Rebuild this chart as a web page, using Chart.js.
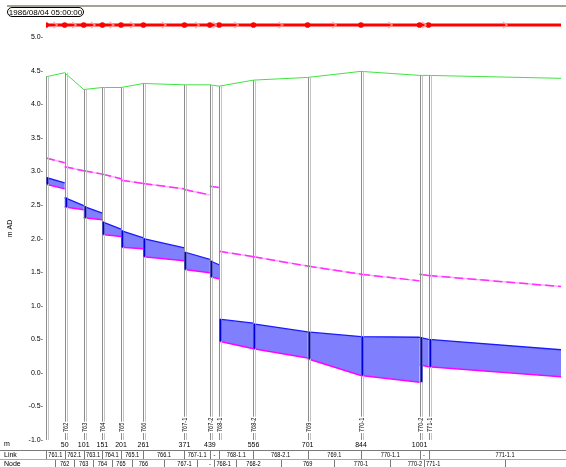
<!DOCTYPE html>
<html>
<head>
<meta charset="utf-8">
<title>Longitudinal profile</title>
<script src="https://cdn.jsdelivr.net/npm/chart.js@4.4.1/dist/chart.umd.min.js"></script>
<style>
  html, body { margin: 0; padding: 0; background: #fff; }
  #wrap { width: 566px; height: 467px; }
</style>
</head>
<body>
<div id="wrap"><canvas id="profile" width="566" height="467"></canvas></div>
<script>
// Perfil longitudinal del colector, instante 1986/08/04 05:00
const timeStamp = '1986/08/04 05:00:00';

// Nodos (pozos): nombre, distancia acumulada (m) y cota de terreno (m AD)
const nodeNames = ['761', '762', '763', '764', '765', '766', '767-1', '767-2', '768-1', '768-2', '769', '770-1', '770-2', '771-1', ''];
const nodeDist = [0, 50, 101, 151, 201, 261, 371, 439, 464, 556, 701, 844, 1001, 1025, 1435];
const distLabels = ['', '50', '101', '151', '201', '261', '371', '439', '', '556', '701', '844', '1001', '', ''];
const groundLevel = [4.41, 4.47, 4.22, 4.25, 4.25, 4.31, 4.29, 4.29, 4.27, 4.36, 4.40, 4.49, 4.43, 4.43, 4.38];

// Tramos (links) entre nodo i y nodo i+1
const linkNames = ['761.1', '762.1', '763.1', '764.1', '765.1', '766.1', '767-1.1', '767-2.1', '768-1.1', '768-2.1', '769.1', '770-1.1', '770-2.1', '771-1.1'];
const invertUp = [2.81, 2.47, 2.31, 2.06, 1.87, 1.73, 1.54, 1.43, 0.47, 0.36, 0.21, -0.04, 0.12, 0.09];
const invertDn = [2.74, 2.43, 2.28, 2.03, 1.85, 1.67, 1.49, 1.40, 0.36, 0.22, -0.04, -0.14, 0.09, -0.08];
const crownUp = [3.20, 3.07, 3.01, 2.96, 2.87, 2.82, 2.73, 2.78, 1.81, 1.73, 1.59, 1.47, 1.47, 1.45];
const crownDn = [3.13, 3.01, 2.96, 2.89, 2.82, 2.74, 2.65, 2.76, 1.73, 1.59, 1.47, 1.37, 1.45, 1.26];
const waterUp = [2.91, 2.61, 2.48, 2.25, 2.12, 2.00, 1.80, 1.67, 0.80, 0.73, 0.61, 0.54, 0.53, 0.50];
const waterDn = [2.83, 2.49, 2.38, 2.14, 2.01, 1.86, 1.69, 1.61, 0.74, 0.61, 0.54, 0.53, 0.50, 0.32];

// Marcas del eje vertical
const yTicks = [-1.0, -0.5, 0.0, 0.5, 1.0, 1.5, 2.0, 2.5, 3.0, 3.5, 4.0, 4.5, 5.0];

const X_MAX = 1380;
const BAND_LEVEL = 5.18;   // fila roja de la red, encima del perfil
const FONT = '"Liberation Sans", Arial, sans-serif';
const NARROW = 0.8;        // la fuente original es más estrecha

Chart.defaults.font.family = FONT;
Chart.defaults.font.size = 7;
Chart.defaults.color = '#000';

// serie por tramos con huecos entre tramos
function linkSeries(up, dn) {
    const pts = [];
    for (let i = 0; i < linkNames.length; i++) {
        pts.push({ x: nodeDist[i], y: up[i] });
        pts.push({ x: nodeDist[i + 1], y: dn[i] });
        pts.push({ x: nodeDist[i + 1], y: null });
    }
    return pts;
}

// flecha ">" para el sentido del flujo
function arrowGlyph() {
    const c = document.createElement('canvas');
    c.width = 6; c.height = 8;
    const g = c.getContext('2d');
    g.strokeStyle = '#ffa0a0';
    g.lineWidth = 1.2;
    g.beginPath();
    g.moveTo(1, 1); g.lineTo(5, 4); g.lineTo(1, 7);
    g.stroke();
    return c;
}

// texto comprimido en horizontal
function narrowText(ctx, text, x, y) {
    ctx.save();
    ctx.translate(x, y);
    ctx.scale(NARROW, 1);
    ctx.fillText(text, 0, 0);
    ctx.restore();
}

const waterShapes = linkNames.map((name, i) => ({
    label: name,
    data: [
        { x: nodeDist[i], y: waterUp[i] },
        { x: nodeDist[i + 1], y: waterDn[i] },
        { x: nodeDist[i + 1], y: invertDn[i] },
        { x: nodeDist[i], y: invertUp[i] }
    ],
    fill: 'shape',
    backgroundColor: '#8080ff',
    borderWidth: 0,
    pointRadius: 0,
    order: 6
}));

const datasets = [
    {
        label: 'red',
        data: nodeDist.map(d => ({ x: d, y: BAND_LEVEL })),
        borderColor: '#ff0000',
        backgroundColor: '#ff0000',
        borderWidth: 3,
        pointRadius: 2.8,
        pointBorderWidth: 0,
        order: 0
    },
    {
        label: 'flow',
        data: linkNames.map((n, i) => ({ x: (nodeDist[i] + nodeDist[i + 1]) / 2, y: BAND_LEVEL })),
        showLine: false,
        pointStyle: arrowGlyph(),
        order: -1
    },
    {
        label: 'Ground',
        data: nodeDist.map((d, i) => ({ x: d, y: groundLevel[i] })),
        borderColor: '#3fe43f',
        borderWidth: 1,
        pointRadius: 0,
        order: 1
    },
    {
        label: 'Invert',
        data: linkSeries(invertUp, invertDn),
        borderColor: '#ff00ff',
        borderWidth: 1.5,
        pointRadius: 0,
        order: 2
    },
    {
        label: 'Crown',
        data: linkSeries(crownUp, crownDn),
        borderColor: '#ff30ff',
        borderWidth: 1.5,
        borderDash: [9, 4],
        pointRadius: 0,
        order: 3
    },
    {
        label: 'Crown2',
        data: linkSeries(crownUp, crownDn),
        borderColor: '#ffb0ff',
        borderWidth: 1.5,
        pointRadius: 0,
        order: 4
    },
    {
        label: 'Water',
        data: linkSeries(waterUp, waterDn),
        borderColor: '#1a1aff',
        borderWidth: 1.3,
        pointRadius: 0,
        order: 5
    }
].concat(waterShapes);

// pozos, textos y tabla inferior
const profileDecor = {
    id: 'profileDecor',
    afterDatasetsDraw(chart) {
        const { ctx, chartArea } = chart;
        const xs = chart.scales.x, ys = chart.scales.y;
        ctx.save();
        ctx.beginPath();
        ctx.rect(chartArea.left - 2, 0, chartArea.right - chartArea.left + 4, chartArea.bottom + 1);
        ctx.clip();
        // paredes de pozo
        nodeDist.forEach((d, i) => {
            const x = Math.round(xs.getPixelForValue(d));
            const top = ys.getPixelForValue(groundLevel[i]);
            ctx.lineWidth = 1;
            ctx.strokeStyle = '#8c8c8c';
            ctx.beginPath(); ctx.moveTo(x + 0.5, top); ctx.lineTo(x + 0.5, chartArea.bottom); ctx.stroke();
            ctx.strokeStyle = '#c4c4c4';
            ctx.beginPath(); ctx.moveTo(x + 2.5, top); ctx.lineTo(x + 2.5, chartArea.bottom); ctx.stroke();
        });
        // agua en el pozo
        ctx.strokeStyle = '#0000d8';
        ctx.lineWidth = 2;
        for (let i = 0; i < linkNames.length; i++) {
            const x = Math.round(xs.getPixelForValue(nodeDist[i])) + 1.5;
            const bottom = i > 0 ? Math.min(invertDn[i - 1], invertUp[i]) : invertUp[i];
            ctx.beginPath();
            ctx.moveTo(x, ys.getPixelForValue(bottom));
            ctx.lineTo(x, ys.getPixelForValue(waterUp[i]));
            ctx.stroke();
        }
        ctx.restore();
    },
    afterDraw(chart) {
        const { ctx, width } = chart;
        const xs = chart.scales.x;
        ctx.save();
        ctx.font = '7px ' + FONT;
        ctx.fillStyle = '#000';
        ctx.textBaseline = 'middle';

        // nombres de nodo en vertical
        nodeNames.forEach((name, i) => {
            if (!name || nodeDist[i] > X_MAX || i === 0) return;
            const x = Math.round(xs.getPixelForValue(nodeDist[i])) + 1;
            const w = ctx.measureText(name).width * NARROW;
            ctx.save();
            ctx.translate(x, 432);
            ctx.rotate(-Math.PI / 2);
            ctx.fillStyle = '#fff';
            ctx.fillRect(-1, -3.5, w + 2, 7);
            ctx.fillStyle = '#000';
            ctx.textAlign = 'left';
            narrowText(ctx, name, 0, 0.5);
            ctx.restore();
        });

        // línea superior y fecha
        ctx.fillStyle = '#a6a294';
        ctx.fillRect(7, 5, width - 7, 2);
        ctx.strokeStyle = '#000';
        ctx.lineWidth = 1;
        ctx.beginPath();
        ctx.roundRect(7.5, 7.5, 76, 9, 4.5);
        ctx.stroke();
        ctx.fillStyle = '#000';
        ctx.font = '8px ' + FONT;
        ctx.textAlign = 'center';
        ctx.fillText(timeStamp, 45.5, 12.5);

        // tabla de tramos y nodos
        ctx.font = '7px ' + FONT;
        ctx.textAlign = 'left';
        ctx.fillText('m', 4, 444.5);
        ctx.fillText('Link', 4, 455.5);
        ctx.fillText('Node', 4, 464);

        ctx.fillStyle = '#7a7a7a';
        ctx.fillRect(0, 450, width, 1);
        ctx.fillStyle = '#a8a8a8';
        ctx.fillRect(0, 459, width, 1);

        const px = nodeDist.map(d => xs.getPixelForValue(d));
        ctx.textAlign = 'center';
        linkNames.forEach((name, i) => {
            const a = px[i], b = px[i + 1];
            ctx.fillStyle = '#7a7a7a';
            ctx.fillRect(Math.round(a), 451, 1, 8);
            const w = ctx.measureText(name).width * NARROW;
            const label = w > b - a - 2 ? '-' : name;
            ctx.fillStyle = '#000';
            narrowText(ctx, label, (a + b) / 2, 455.5);
        });
        for (let i = 1; i < nodeNames.length - 1; i++) {
            const left = (px[i - 1] + px[i]) / 2;
            const right = (px[i] + px[i + 1]) / 2;
            ctx.fillStyle = '#7a7a7a';
            ctx.fillRect(Math.round(left), 460, 1, 7);
            if (i === nodeNames.length - 2) ctx.fillRect(Math.round(right), 460, 1, 7);
            const w = ctx.measureText(nodeNames[i]).width * NARROW;
            let label = nodeNames[i];
            let cx = px[i];
            if (w > right - left - 4) {
                label = '-';
            } else {
                cx = Math.max(left + 2 + w / 2, Math.min(right - 2 - w / 2, cx));
            }
            ctx.fillStyle = '#000';
            narrowText(ctx, label, cx, 464);
        }
        ctx.restore();
    }
};

new Chart(document.getElementById('profile'), {
    type: 'line',
    data: { datasets: datasets },
    options: {
        responsive: false,
        animation: false,
        events: [],
        layout: { padding: { top: 17, right: 0, bottom: 0, left: 0 } },
        plugins: {
            legend: { display: false },
            tooltip: { enabled: false }
        },
        scales: {
            x: {
                type: 'linear',
                min: 0,
                max: X_MAX,
                grid: { display: false, drawTicks: false },
                border: { display: false },
                afterBuildTicks: scale => {
                    scale.ticks = nodeDist.filter(d => d <= X_MAX).map(v => ({ value: v }));
                },
                afterFit: scale => { scale.height = 27; },
                ticks: {
                    autoSkip: false,
                    maxRotation: 0,
                    padding: 1,
                    callback: value => distLabels[nodeDist.indexOf(value)]
                }
            },
            y: {
                min: -1.0,
                max: 5.3,
                grid: { display: false, drawTicks: false },
                border: { display: false },
                afterBuildTicks: scale => {
                    scale.ticks = yTicks.map(v => ({ value: v }));
                },
                afterFit: scale => { scale.width = 46; },
                ticks: {
                    padding: 3,
                    callback: value => value.toFixed(1) + '-'
                },
                title: {
                    display: true,
                    text: 'm AD',
                    font: { size: 7 },
                    padding: { top: 6, bottom: 0 }
                }
            }
        }
    },
    plugins: [profileDecor]
});
</script>
</body>
</html>
